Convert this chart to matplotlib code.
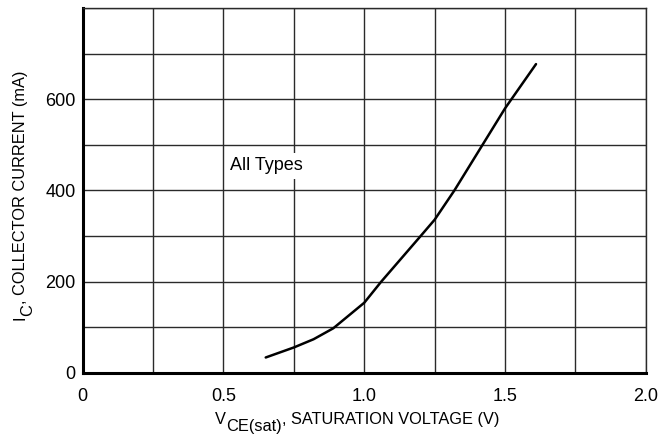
import matplotlib
matplotlib.use("Agg")
import matplotlib.pyplot as plt
from matplotlib.ticker import MultipleLocator

# curve
vce_sat = [0.65, 0.75, 0.82, 0.89, 1.00, 1.06, 1.20, 1.25, 1.32, 1.42, 1.50, 1.61]
ic_ma = [34, 56, 74, 98, 154, 200, 300, 336, 400, 500, 580, 677]

x_ticks = [0, 0.5, 1.0, 1.5, 2.0]
x_tick_labels = ["0", "0.5", "1.0", "1.5", "2.0"]
y_ticks = [0, 200, 400, 600]
y_tick_labels = ["0", "200", "400", "600"]

plt.rcParams['font.family'] = ['Liberation Sans Narrow', 'Liberation Sans', 'DejaVu Sans']
FS_TICK = 13
FS_LABEL = 11.8

fig = plt.figure(figsize=(6.59, 4.41), dpi=100)
ax = fig.add_axes([0.1255, 0.1542, 0.8545, 0.8277])

ax.plot(vce_sat, ic_ma, color='black', lw=1.8, solid_capstyle='round', zorder=3)

ax.set_xlim(0, 2.0)
ax.set_ylim(0, 800)
ax.xaxis.set_minor_locator(MultipleLocator(0.25))
ax.yaxis.set_minor_locator(MultipleLocator(100))
ax.set_xticks(x_ticks, x_tick_labels)
ax.set_yticks(y_ticks, y_tick_labels)
ax.tick_params(which='both', length=0, labelsize=FS_TICK)
ax.tick_params(axis='x', pad=11)
ax.tick_params(axis='y', pad=5)
ax.grid(True, which='both', color='#2a2a2a', lw=1.0, zorder=1)

for side in ['left', 'bottom']:
    ax.spines[side].set_linewidth(2.2)
for side in ['top', 'right']:
    ax.spines[side].set_linewidth(1.0)
    ax.spines[side].set_color('#2a2a2a')

ax.text(0.524, 454, "All Types", fontsize=FS_TICK, va='center', ha='left', zorder=4,
        bbox=dict(facecolor='white', edgecolor='none', pad=3))

# x label with a full-size lowered subscript
t1 = fig.text(215 / 659, 1 - 424 / 441, "V", fontsize=FS_LABEL, ha='left', va='baseline')
t2 = ax.annotate("CE(sat)", xy=(1, 0), xycoords=t1, xytext=(0, -5),
                 textcoords='offset points', fontsize=FS_LABEL, ha='left', va='bottom')
ax.annotate(", SATURATION VOLTAGE (V)", xy=(1, 0), xycoords=t2, xytext=(0, 5),
            textcoords='offset points', fontsize=FS_LABEL, ha='left', va='bottom')

# y label, same trick rotated
s1 = fig.text(13 / 659, 1 - 320 / 441, "I", fontsize=FS_LABEL, rotation=90,
              ha='left', va='bottom')
s2 = ax.annotate("C", xy=(0, 1), xycoords=s1, xytext=(5, 0),
                 textcoords='offset points', fontsize=FS_LABEL, rotation=90,
                 ha='left', va='bottom')
ax.annotate(", COLLECTOR CURRENT (mA)", xy=(0, 1), xycoords=s2, xytext=(-5, 0),
            textcoords='offset points', fontsize=FS_LABEL, rotation=90,
            ha='left', va='bottom')

fig.savefig("out.png", dpi=100)
